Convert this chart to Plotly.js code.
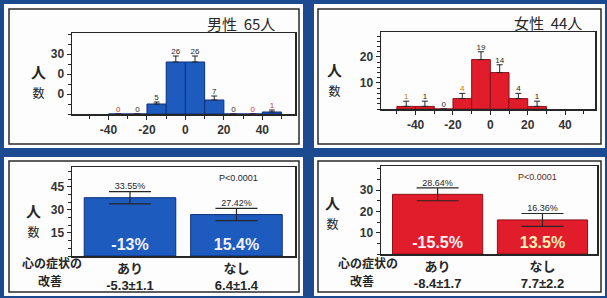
<!DOCTYPE html>
<html><head><meta charset="utf-8">
<script src="https://cdn.plot.ly/plotly-3.0.1.min.js"></script>
<style>html,body{margin:0;padding:0;background:#1b4a91;} #chart{width:607px;height:298px;}</style>
</head><body><div id="chart"></div>
<script>
// ---- data ----
const menBinCenters = [-35, -25, -15, -5, 5, 15, 25, 35, 45];
const menCounts = [0, 0, 5, 26, 26, 7, 0, 0, 1];
const menErr = [0, 0, 1, 3, 3, 2, 0, 0, 1];
const womenBinCenters = [-45, -35, -25, -15, -5, 5, 15, 25];
const womenCounts = [1, 1, 0, 4, 19, 14, 4, 1];
const womenErr = [2, 2, 0, 2, 3, 3, 2, 2];
const histTickVals = [-40, -20, 0, 20, 40];
const histTickText = ['-40', '-20', '0', '20', '40'];
const menHistYTicks = [10, 20, 30];
const menHistYText = ['0', '0', '30'];
const womenHistYTicks = [10, 20];
const womenHistYText = ['10', '20'];

const improveCats = ['あり', 'なし'];
const menImprove = [38, 27];
const menImproveErr = [4, 4];
const menPct = ['33.55%', '27.42%'];
const menChange = ['-13%', '15.4%'];
const menScore = ['-5.3±1.1', '6.4±1.4'];
const womenImprove = [28, 16];
const womenImproveErr = [3, 3];
const womenPct = ['28.64%', '16.36%'];
const womenChange = ['-15.5%', '13.5%'];
const womenScore = ['-8.4±1.7', '7.7±2.2'];
const menYTicks = [15, 30, 45];
const womenYTicks = [10, 20, 30];

// ---- helpers ----
const W = 607, H = 298;
const fx = x => x / W;
const fy = y => 1 - y / H;
const NUM = 'Liberation Sans, Arial, sans-serif';
const JP = 'Noto Sans CJK JP, sans-serif';
const INK = '#262626';
const BLUE = '#1d5bbf', BLUE_L = '#0d2f78';
const RED = '#e11d2b', RED_L = '#8e1019';

function baseAxis(extra) {
  return Object.assign({
    showline: true, linecolor: INK, linewidth: 1.5, mirror: true,
    zeroline: false, showgrid: false, ticks: 'outside', tickcolor: INK, ticklen: 4,
    tickfont: {family: NUM, size: 12, color: '#333', weight: 'bold'},
    fixedrange: true
  }, extra);
}
const zeros = a => a.map(() => 0);

const traces = [
  // men histogram
  {type: 'bar', x: menBinCenters, y: menCounts, width: 10, xaxis: 'x', yaxis: 'y',
   marker: {color: BLUE, line: {color: BLUE_L, width: 1}},
   error_y: {type: 'data', symmetric: false, array: menErr, arrayminus: zeros(menErr),
             visible: true, color: INK, thickness: 1, width: 3},
   hoverinfo: 'none'},
  {type: 'scatter', mode: 'text', x: menBinCenters, y: menCounts.map((v, i) => v + menErr[i]),
   text: menCounts.map(String), textposition: 'top center', cliponaxis: false,
   textfont: {family: NUM, size: 8, color: ['#c33', INK, INK, INK, INK, INK, INK, '#c33', '#c33']},
   xaxis: 'x', yaxis: 'y', hoverinfo: 'none'},
  // women histogram
  {type: 'bar', x: womenBinCenters, y: womenCounts, width: 10, xaxis: 'x2', yaxis: 'y2',
   marker: {color: RED, line: {color: RED_L, width: 1}},
   error_y: {type: 'data', symmetric: false, array: womenErr, arrayminus: zeros(womenErr),
             visible: true, color: INK, thickness: 1, width: 3},
   hoverinfo: 'none'},
  {type: 'scatter', mode: 'text', x: womenBinCenters, y: womenCounts.map((v, i) => v + womenErr[i]),
   text: womenCounts.map(String), textposition: 'top center', cliponaxis: false,
   textfont: {family: NUM, size: 8, color: ['#c70', INK, INK, '#c70', INK, INK, INK, INK]},
   xaxis: 'x2', yaxis: 'y2', hoverinfo: 'none'},
  // men improvement
  {type: 'bar', x: improveCats, y: menImprove, width: 0.86, xaxis: 'x3', yaxis: 'y3',
   marker: {color: BLUE, line: {color: BLUE_L, width: 1}},
   text: menChange, textposition: 'inside', insidetextanchor: 'start', textangle: 0,
   textfont: {family: NUM, size: 16, color: '#f4f0ff', weight: 'bold'},
   error_y: {type: 'data', array: menImproveErr, visible: true, color: INK, thickness: 1.2, width: 21},
   hoverinfo: 'none'},
  {type: 'scatter', mode: 'text', x: improveCats, y: menImprove.map((v, i) => v + menImproveErr[i]),
   text: menPct, textposition: 'top center', cliponaxis: false,
   textfont: {family: NUM, size: 9, color: INK}, xaxis: 'x3', yaxis: 'y3', hoverinfo: 'none'},
  // women improvement
  {type: 'bar', x: improveCats, y: womenImprove, width: 0.86, xaxis: 'x4', yaxis: 'y4',
   marker: {color: RED, line: {color: RED_L, width: 1}},
   text: womenChange, textposition: 'inside', insidetextanchor: 'start', textangle: 0,
   textfont: {family: NUM, size: 16, color: ['#fff0f4', '#fff1b8'], weight: 'bold'},
   error_y: {type: 'data', array: womenImproveErr, visible: true, color: INK, thickness: 1.2, width: 21},
   hoverinfo: 'none'},
  {type: 'scatter', mode: 'text', x: improveCats, y: womenImprove.map((v, i) => v + womenImproveErr[i]),
   text: womenPct, textposition: 'top center', cliponaxis: false,
   textfont: {family: NUM, size: 9, color: INK}, xaxis: 'x4', yaxis: 'y4', hoverinfo: 'none'}
];

function panel(x0, y0, x1, y1, bx0, by0, bx1, by1) {
  return [
    {type: 'rect', xref: 'paper', yref: 'paper', x0: fx(x0), x1: fx(x1), y0: fy(y1), y1: fy(y0),
     fillcolor: '#fdfdfd', line: {width: 0}, layer: 'below'},
    {type: 'rect', xref: 'paper', yref: 'paper', x0: fx(bx0), x1: fx(bx1), y0: fy(by1), y1: fy(by0),
     fillcolor: 'rgba(0,0,0,0)', line: {color: '#2a2a2a', width: 1.5}, layer: 'below'}
  ];
}
const shapes = [].concat(
  panel(4, 4, 303, 148, 9, 9, 299, 144),
  panel(314, 4, 605, 148, 318, 9, 601, 144),
  panel(4, 157, 303, 296, 9, 161, 299, 292),
  panel(314, 157, 605, 296, 318, 161, 601, 292)
);

function ann(text, x, y, size, opts) {
  return Object.assign({text: text, x: fx(x), y: fy(y), xref: 'paper', yref: 'paper',
    showarrow: false, xanchor: 'center', yanchor: 'middle',
    font: {family: JP, size: size, color: INK}}, opts || {});
}
const yLab = '<b>人</b><br><span style="font-size:12px">数</span>';
const annotations = [
  ann('男性&nbsp;&nbsp;65人', 277, 23, 15, {xanchor: 'right'}),
  ann('女性&nbsp;&nbsp;44人', 584, 22, 15, {xanchor: 'right'}),
  ann(yLab, 38, 81, 15),
  ann(yLab, 334, 79, 15),
  ann(yLab, 33, 220, 15),
  ann(yLab, 332, 212, 15),
  ann('P<0.0001', 238, 178, 9, {font: {family: NUM, size: 9, color: INK}}),
  ann('P<0.0001', 537, 177, 9, {font: {family: NUM, size: 9, color: '#5a2a1a'}}),
  ann('<b>心の症状の</b>', 52, 262, 12), ann('<b>改善</b>', 50, 280, 12),
  ann('<b>心の症状の</b>', 368, 262, 12), ann('<b>改善</b>', 362, 280, 12)
];

const catTickFont = {family: 'Liberation Sans, Noto Sans CJK JP, sans-serif', size: 13, color: INK, weight: 'bold'};
const layout = {
  width: W, height: H, margin: {l: 0, r: 0, t: 0, b: 0},
  paper_bgcolor: '#1b4a91', plot_bgcolor: 'rgba(0,0,0,0)',
  showlegend: false, bargap: 0,
  shapes: shapes, annotations: annotations,
  xaxis: baseAxis({domain: [fx(72), fx(295)], anchor: 'y', range: [-59, 57],
    tickmode: 'array', tickvals: histTickVals, ticktext: histTickText,
    minor: {dtick: 10, tick0: 0, ticks: 'outside', ticklen: 3, tickcolor: INK}}),
  yaxis: baseAxis({domain: [fy(114), fy(33)], anchor: 'x', range: [0, 40.5],
    tickmode: 'array', tickvals: menHistYTicks, ticktext: menHistYText,
    minor: {dtick: 5, tick0: 0, ticks: 'outside', ticklen: 3, tickcolor: INK}}),
  xaxis2: baseAxis({domain: [fx(381), fx(595)], anchor: 'y2', range: [-58.5, 56],
    tickmode: 'array', tickvals: histTickVals, ticktext: histTickText,
    minor: {dtick: 10, tick0: 0, ticks: 'outside', ticklen: 3, tickcolor: INK}}),
  yaxis2: baseAxis({domain: [fy(109), fy(32)], anchor: 'x2', range: [0, 29.6],
    tickmode: 'array', tickvals: womenHistYTicks, ticktext: womenHistYText,
    minor: {dtick: 2, tick0: 0, ticks: 'outside', ticklen: 3, tickcolor: INK}}),
  xaxis3: baseAxis({domain: [fx(72), fx(295)], anchor: 'y3', type: 'category', range: [-0.545, 1.55],
    ticks: '', tickmode: 'array', tickvals: improveCats,
    ticktext: improveCats.map((c, i) => c + '<br>' + menScore[i]), tickfont: catTickFont}),
  yaxis3: baseAxis({domain: [fy(256), fy(167)], anchor: 'x3', range: [0, 58],
    tickmode: 'array', tickvals: menYTicks, ticktext: menYTicks.map(String),
    minor: {dtick: 5, tick0: 0, ticks: 'outside', ticklen: 3, tickcolor: INK}}),
  xaxis4: baseAxis({domain: [fx(381), fx(597)], anchor: 'y4', type: 'category', range: [-0.54, 1.52],
    ticks: '', tickmode: 'array', tickvals: improveCats,
    ticktext: improveCats.map((c, i) => c + '<br>' + womenScore[i]), tickfont: catTickFont}),
  yaxis4: baseAxis({domain: [fy(254), fy(166)], anchor: 'x4', range: [0, 41.3],
    tickmode: 'array', tickvals: womenYTicks, ticktext: womenYTicks.map(String),
    minor: {dtick: 5, tick0: 0, ticks: 'outside', ticklen: 3, tickcolor: INK}})
};

Plotly.newPlot('chart', traces, layout, {displayModeBar: false, staticPlot: true});
</script>
</body></html>
